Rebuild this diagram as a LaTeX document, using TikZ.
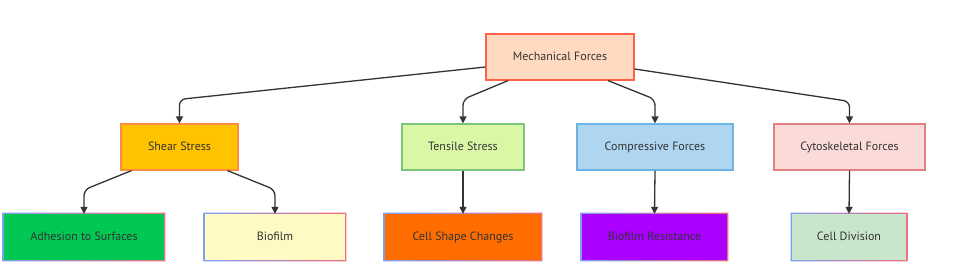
\documentclass[tikz,border=0pt]{standalone}
\usepackage{fontspec}
\setmainfont{PT Sans}
\usetikzlibrary{arrows.meta}
\definecolor{txt}{HTML}{333333}
\definecolor{ln}{HTML}{333333}
\definecolor{mfF}{HTML}{FFDAC1}\definecolor{mfD}{HTML}{FF6347}
\definecolor{shF}{HTML}{FFC300}\definecolor{shD}{HTML}{FF8C40}
\definecolor{tsF}{HTML}{DAF7A6}\definecolor{tsD}{HTML}{7CC47C}
\definecolor{cpF}{HTML}{AED6F1}\definecolor{cpD}{HTML}{6CB4E4}
\definecolor{cyF}{HTML}{FADBD8}\definecolor{cyD}{HTML}{E08080}
\definecolor{adF}{HTML}{00C853}
\definecolor{bfF}{HTML}{FFF9C4}
\definecolor{csF}{HTML}{FF6D00}
\definecolor{brF}{HTML}{AA00FF}
\definecolor{cdF}{HTML}{C8E6C9}
\definecolor{gB}{HTML}{7F9FF0}\definecolor{gR}{HTML}{F07080}
\tikzset{
  x=1pt,y=-1pt,
  lbl/.style={inner sep=0pt, text height=8.6pt, text depth=2.6pt, text=txt, font=\fontsize{12}{14}\selectfont},
  box/.style={lbl, draw, line width=1.2pt, minimum height=46pt},
  leaf/.style={lbl, minimum height=46pt},
  arr/.style={draw=ln, line width=1.3pt, rounded corners=6pt, -{Triangle[length=7pt,width=7pt]}},
}
\newcommand{\gradborder}[1]{%
  \shade[left color=gB, right color=gR, even odd rule]
    ([shift={(-1.2pt,-1.2pt)}]#1.south west) rectangle ([shift={(1.2pt,1.2pt)}]#1.north east)
    (#1.south west) rectangle (#1.north east);}
\begin{document}
\begin{tikzpicture}
\useasboundingbox[fill=white] (0,0) rectangle (974,270);
% top
\node[box, fill=mfF, draw=mfD, minimum width=148pt] (mf) at (560,57) {Mechanical Forces};
% middle
\node[box, fill=shF, draw=shD, minimum width=117pt] (sh) at (179.5,147) {Shear Stress};
\node[box, fill=tsF, draw=tsD, minimum width=122pt] (ts) at (463,147) {Tensile Stress};
\node[box, fill=cpF, draw=cpD, minimum width=156pt] (cp) at (655,147) {Compressive Forces};
\node[box, fill=cyF, draw=cyD, minimum width=151pt] (cy) at (849.5,147) {Cytoskeletal Forces};
% bottom
\node[leaf, fill=adF, minimum width=160pt] (ad) at (84,237) {Adhesion to Surfaces};
\node[leaf, fill=bfF, minimum width=140pt] (bf) at (275,237) {Biofilm};
\node[leaf, fill=csF, minimum width=156pt] (cs) at (463,237) {Cell Shape Changes};
\node[leaf, fill=brF, minimum width=145pt] (br) at (654.5,237) {Biofilm Resistance};
\node[leaf, fill=cdF, minimum width=114pt] (cd) at (849,237) {Cell Division};
\gradborder{ad}\gradborder{bf}\gradborder{cs}\gradborder{br}\gradborder{cd}
% connectors
\draw[arr] ([yshift=-10pt]mf.west) -- ([yshift=24pt]sh.north) -- (sh.north);
\draw[arr] ([xshift=-52pt]mf.south) -- ([yshift=24pt]ts.north) -- (ts.north);
\draw[arr] ([xshift=48pt]mf.south) -- ([yshift=24pt]cp.north) -- (cp.north);
\draw[arr] ([yshift=-12pt]mf.east) -- ([yshift=22pt]cy.north) -- (cy.north);
\draw[arr] ([xshift=-48pt]sh.south) -- ([yshift=24pt]ad.north) -- (ad.north);
\draw[arr] ([xshift=48pt]sh.south) -- ([yshift=24pt]bf.north) -- (bf.north);
\draw[arr] (ts.south) -- (cs.north);
\draw[arr] (cp.south) -- (br.north);
\draw[arr] (cy.south) -- (cd.north);
\end{tikzpicture}
\end{document}
